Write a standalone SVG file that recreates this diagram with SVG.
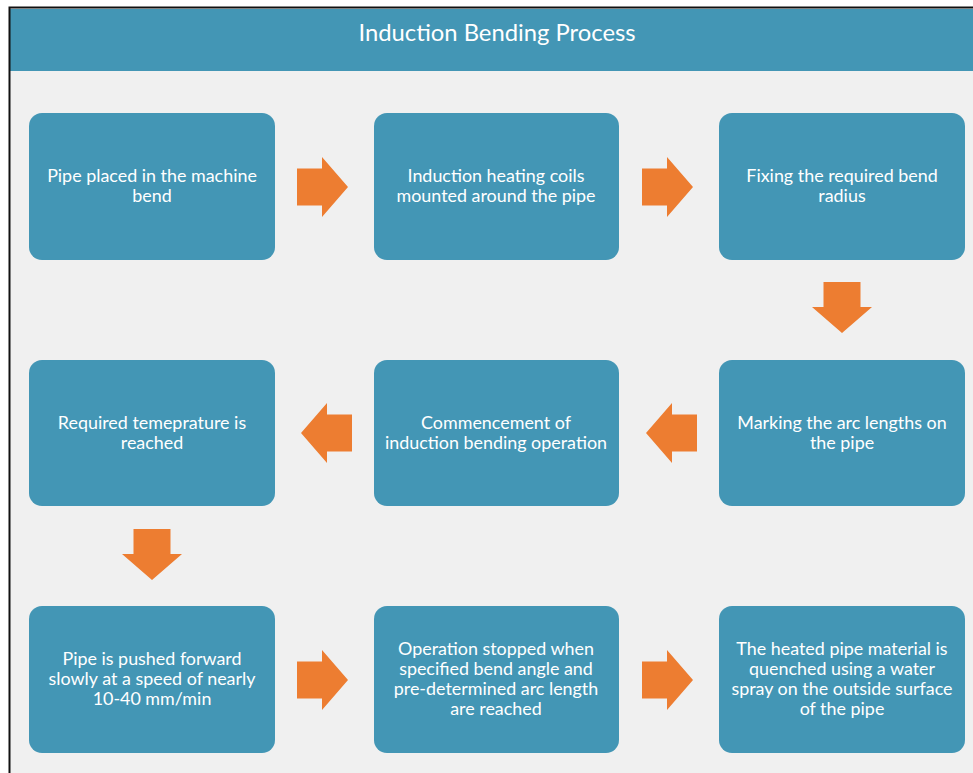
<svg xmlns="http://www.w3.org/2000/svg" width="973" height="773" viewBox="0 0 973 773">
<defs>
<style>
.box{fill:#4396B5;}
.arr{fill:#ED7D31;}
.t{font-family:Lato,"Open Sans","Liberation Sans",sans-serif;font-size:17.9px;fill:#ffffff;text-anchor:middle;}
.title{font-family:Lato,"Open Sans","Liberation Sans",sans-serif;font-size:23.8px;fill:#ffffff;text-anchor:middle;}
</style>
<path id="ar" d="M0,-18.5 H25 V-30 L51,0 L25,30 V18.5 H0 Z"/>
</defs>
<rect x="0" y="0" width="973" height="773" fill="#ffffff"/>
<rect x="10" y="8" width="963" height="765" fill="#F0F0F0"/>
<rect x="10" y="9" width="963" height="62" fill="#4396B5"/>
<path d="M9.5,773 V7.5 H973" fill="none" stroke="#111" stroke-width="2"/>
<text class="title" x="497" y="41">Induction Bending Process</text>

<g id="n1"><rect class="box" x="29" y="113" width="246" height="147" rx="13"/>
<text class="t" x="152" y="182">Pipe placed in the machine</text><text class="t" x="152" y="202">bend</text></g>
<g id="n2"><rect class="box" x="374" y="113" width="245" height="147" rx="13"/>
<text class="t" x="496" y="182">Induction heating coils</text><text class="t" x="496" y="202">mounted around the pipe</text></g>
<g id="n3"><rect class="box" x="719" y="113" width="246" height="147" rx="13"/>
<text class="t" x="842" y="182">Fixing the required bend</text><text class="t" x="842" y="202">radius</text></g>
<g id="n4"><rect class="box" x="719" y="360" width="246" height="146" rx="13"/>
<text class="t" x="842" y="429">Marking the arc lengths on</text><text class="t" x="842" y="449">the pipe</text></g>
<g id="n5"><rect class="box" x="374" y="360" width="245" height="146" rx="13"/>
<text class="t" x="496" y="429">Commencement of</text><text class="t" x="496" y="449">induction bending operation</text></g>
<g id="n6"><rect class="box" x="29" y="360" width="246" height="146" rx="13"/>
<text class="t" x="152" y="429">Required temeprature is</text><text class="t" x="152" y="449">reached</text></g>
<g id="n7"><rect class="box" x="29" y="606" width="246" height="147" rx="13"/>
<text class="t" x="152" y="665">Pipe is pushed forward</text><text class="t" x="152" y="685">slowly at a speed of nearly</text><text class="t" x="152" y="705">10-40 mm/min</text></g>
<g id="n8"><rect class="box" x="374" y="606" width="245" height="147" rx="13"/>
<text class="t" x="496" y="655">Operation stopped when</text><text class="t" x="496" y="675">specified bend angle and</text><text class="t" x="496" y="695">pre-determined arc length</text><text class="t" x="496" y="715">are reached</text></g>
<g id="n9"><rect class="box" x="719" y="606" width="246" height="147" rx="13"/>
<text class="t" x="842" y="655">The heated pipe material is</text><text class="t" x="842" y="675">quenched using a water</text><text class="t" x="842" y="695">spray on the outside surface</text><text class="t" x="842" y="715">of the pipe</text></g>

<g id="connectors" class="arr">
<use href="#ar" transform="translate(297,187)"/>
<use href="#ar" transform="translate(642,187)"/>
<use href="#ar" transform="translate(842,282) rotate(90)"/>
<use href="#ar" transform="translate(697,433) rotate(180)"/>
<use href="#ar" transform="translate(352,433) rotate(180)"/>
<use href="#ar" transform="translate(152,529) rotate(90)"/>
<use href="#ar" transform="translate(297,680)"/>
<use href="#ar" transform="translate(642,680)"/>
</g>
</svg>
